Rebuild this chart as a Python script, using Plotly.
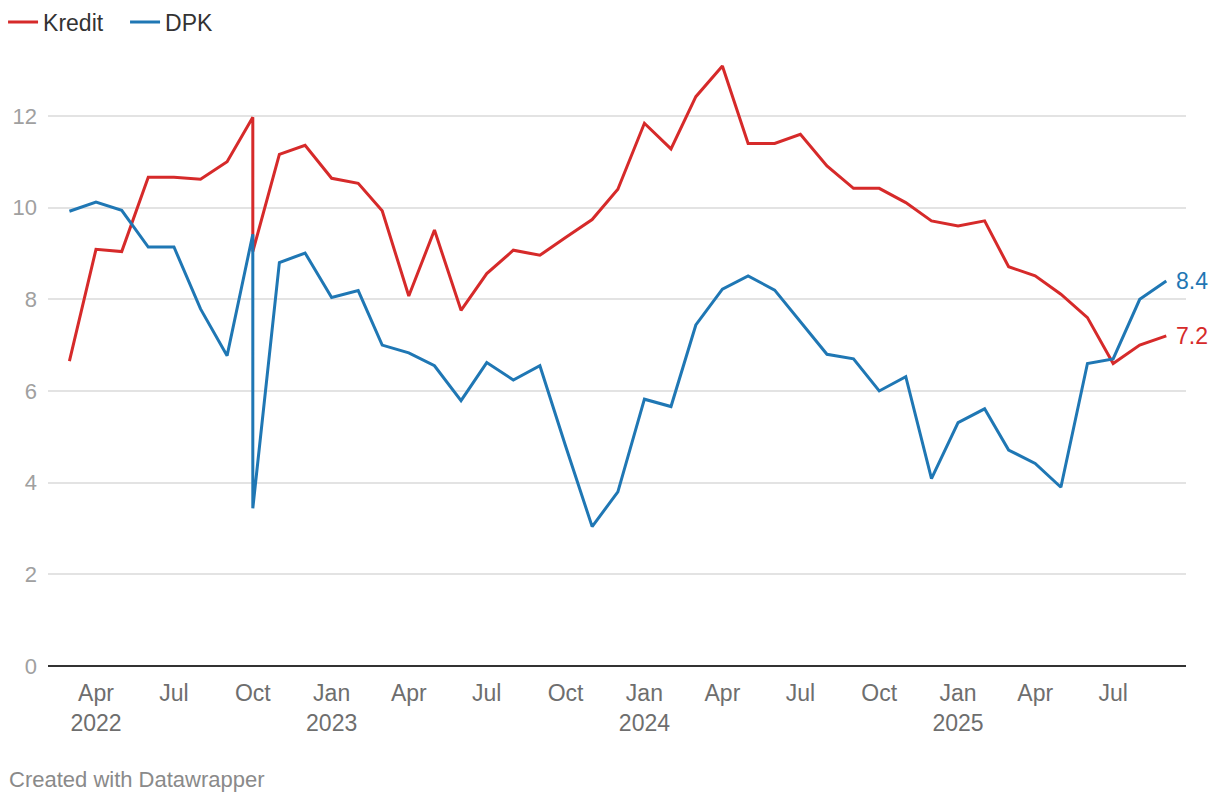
import plotly.graph_objects as go

dates = [
    "2022-03-01", "2022-04-01", "2022-05-01", "2022-06-01", "2022-07-01", "2022-08-01",
    "2022-09-01", "2022-10-01", "2022-10-01", "2022-11-01", "2022-12-01",
    "2023-01-01", "2023-02-01", "2023-03-01", "2023-04-01", "2023-05-01", "2023-06-01",
    "2023-07-01", "2023-08-01", "2023-09-01", "2023-10-01", "2023-11-01", "2023-12-01",
    "2024-01-01", "2024-02-01", "2024-03-01", "2024-04-01", "2024-05-01", "2024-06-01",
    "2024-07-01", "2024-08-01", "2024-09-01", "2024-10-01", "2024-11-01", "2024-12-01",
    "2025-01-01", "2025-02-01", "2025-03-01", "2025-04-01", "2025-05-01", "2025-06-01",
    "2025-07-01", "2025-08-01", "2025-09-01",
]

kredit = [
    6.65, 9.09, 9.04, 10.66, 10.66, 10.62, 11.0, 11.97, 9.04, 11.16, 11.36,
    10.64, 10.53, 9.93, 8.07, 9.51, 7.76, 8.56, 9.07, 8.96, 9.35, 9.74, 10.40,
    11.84, 11.28, 12.42, 13.09, 11.40, 11.40, 11.60, 10.91, 10.42, 10.42, 10.11, 9.71,
    9.60, 9.71, 8.71, 8.51, 8.11, 7.60, 6.60, 7.00, 7.20,
]

dpk = [
    9.92, 10.12, 9.94, 9.14, 9.14, 7.79, 6.77, 9.42, 3.44, 8.80, 9.01,
    8.04, 8.19, 7.00, 6.83, 6.55, 5.79, 6.62, 6.24, 6.55, 4.80, 3.04, 3.80,
    5.82, 5.66, 7.44, 8.22, 8.51, 8.20, 7.50, 6.80, 6.70, 6.00, 6.31, 4.09,
    5.31, 5.61, 4.71, 4.42, 3.90, 6.60, 6.70, 8.00, 8.40,
]

tick_vals = [
    "2022-04-01", "2022-07-01", "2022-10-01", "2023-01-01", "2023-04-01", "2023-07-01",
    "2023-10-01", "2024-01-01", "2024-04-01", "2024-07-01", "2024-10-01", "2025-01-01",
    "2025-04-01", "2025-07-01",
]
tick_text = [
    "Apr<br>2022", "Jul", "Oct", "Jan<br>2023", "Apr", "Jul", "Oct", "Jan<br>2024",
    "Apr", "Jul", "Oct", "Jan<br>2025", "Apr", "Jul",
]
y_ticks = [0, 2, 4, 6, 8, 10, 12]

RED = "#d62a2a"
BLUE = "#1f77b4"
FONT = "Liberation Sans, Arial, sans-serif"

fig = go.Figure()
fig.add_trace(go.Scatter(x=dates, y=kredit, mode="lines", name="Kredit",
                         line=dict(color=RED, width=3)))
fig.add_trace(go.Scatter(x=dates, y=dpk, mode="lines", name="DPK",
                         line=dict(color=BLUE, width=3)))

fig.add_annotation(x=dates[-1], y=dpk[-1], text=f"{dpk[-1]:.1f}", showarrow=False,
                   xanchor="left", xshift=8, font=dict(color=BLUE, size=23, family=FONT))
fig.add_annotation(x=dates[-1], y=kredit[-1], text=f"{kredit[-1]:.1f}", showarrow=False,
                   xanchor="left", xshift=8, font=dict(color=RED, size=23, family=FONT))

fig.add_annotation(xref="paper", yref="paper", x=-0.036, y=-0.188, xanchor="left",
                   yanchor="middle", text="Created with Datawrapper", showarrow=False,
                   font=dict(color="#8a8a8a", size=22, family=FONT))

# The page body has an 8px default margin, so the figure is sized to fit the window.
fig.update_layout(
    width=1212, height=796,
    margin=dict(l=40, r=34, t=52, b=138, autoexpand=False),
    paper_bgcolor="white", plot_bgcolor="white",
    font=dict(family=FONT, size=20, color="#333333"),
    showlegend=True,
    legend=dict(orientation="h", x=-0.0395, xanchor="left", y=1.0627, yanchor="middle",
                font=dict(size=23, color="#333333"), itemwidth=30, tracegroupgap=0,
                entrywidth=77),
    hovermode=False,
)
fig.update_xaxes(
    type="date", range=["2022-02-04", "2025-09-24"], automargin=False,
    tickvals=tick_vals, ticktext=tick_text, tickfont=dict(size=23, color="#6e6e6e"),
    showgrid=False, showline=False, ticks="", zeroline=False, ticklabelstandoff=11,
)
fig.update_yaxes(
    range=[0, 13.22], tickvals=y_ticks, tickfont=dict(size=22, color="#a0a0a0"),
    showgrid=True, gridcolor="#e3e3e3", gridwidth=1.5, automargin=False,
    zeroline=True, zerolinecolor="#333333", zerolinewidth=2,
    showline=False, ticks="", ticklabelstandoff=10,
)

fig.write_html("out.html")
